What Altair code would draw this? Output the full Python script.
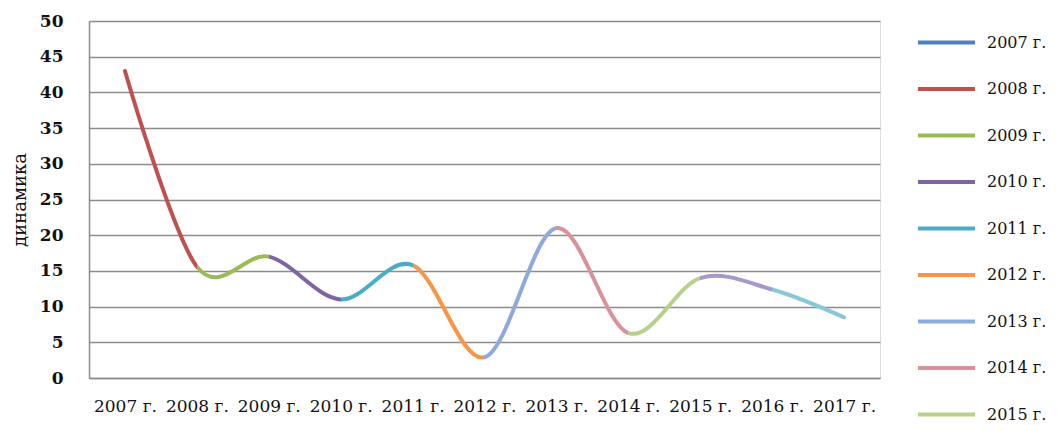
import altair as alt
import pandas as pd

years = ["2007 г.", "2008 г.", "2009 г.", "2010 г.", "2011 г.", "2012 г.",
         "2013 г.", "2014 г.", "2015 г.", "2016 г.", "2017 г."]
values = [43, 15.6, 17, 11, 15.8, 2.9, 21, 6.3, 14, 12.4, 8.5]

# colour of the segment that ends at years[i+1]
segment_colors = ["#C0504D", "#9BBB59", "#8064A2", "#4BACC6", "#F79646",
                  "#8EA9DB", "#D9919A", "#B7D08C", "#A699C9", "#88C8DA"]

legend_labels = years[:9]
legend_colors = ["#4F81BD", "#C0504D", "#9BBB59", "#8064A2", "#4BACC6",
                 "#F79646", "#8EA9DB", "#D9919A", "#B7D08C"]

FONT = "DejaVu Serif"

n = len(values) - 1
stops = []
for i, c in enumerate(segment_colors):
    stops.append(alt.GradientStop(offset=i / n, color=c))
    stops.append(alt.GradientStop(offset=(i + 1) / n, color=c))

df = pd.DataFrame({"year": years, "value": values})
df_leg = pd.DataFrame({"series": legend_labels, "year": years[0], "value": 0})

x_enc = alt.X(
    "year:N", sort=years,
    scale=alt.Scale(type="point", padding=0.5),
    axis=alt.Axis(title=None, labelAngle=0, labelFont=FONT, labelFontSize=17,
                  labelColor="#111111", labelPadding=20, ticks=False,
                  domainColor="#8c8c8c", domainWidth=1.5, grid=False,
                  labelOverlap=False, labelFlush=False),
)
y_enc = alt.Y(
    "value:Q",
    scale=alt.Scale(domain=[0, 50], nice=False),
    axis=alt.Axis(values=list(range(0, 51, 5)), title="динамика",
                  titleFont=FONT, titleFontSize=18, titleFontWeight="normal",
                  titleColor="#111111", titlePadding=10,
                  labelFont=FONT, labelFontSize=17, labelFontWeight="bold",
                  labelColor="#111111", labelPadding=26, ticks=False,
                  labelOverlap=False, labelFlush=False,
                  domainColor="#8c8c8c", domainWidth=1.5,
                  grid=True, gridColor="#8c8c8c", gridWidth=1.5),
)

line = alt.Chart(df).mark_line(
    interpolate="cardinal", strokeWidth=4, strokeCap="round",
    color=alt.Gradient(gradient="linear", stops=stops, x1=0, x2=1, y1=0, y2=0),
).encode(x=x_enc, y=y_enc)

legend_layer = alt.Chart(df_leg).mark_line(strokeCap="butt", strokeWidth=4).encode(
    x=x_enc,
    y=y_enc,
    color=alt.Color(
        "series:N",
        scale=alt.Scale(domain=legend_labels, range=legend_colors),
        legend=alt.Legend(
            title=None, orient="none", legendX=827, legendY=-9,
            symbolType="stroke", symbolSize=3249, symbolStrokeWidth=4,
            labelFont=FONT, labelFontSize=16, labelColor="#111111",
            labelOffset=10, rowPadding=7.5, padding=0,
        ),
    ),
)

chart = alt.layer(line, legend_layer).properties(
    width=791, height=357,
    autosize=alt.AutoSizeParams(type="none"),
    padding={"left": 81, "top": 13, "right": 170, "bottom": 45},
).configure_view(stroke=None).configure(background="white")

chart.save("out.html", embed_options={"renderer": "svg", "actions": False})
